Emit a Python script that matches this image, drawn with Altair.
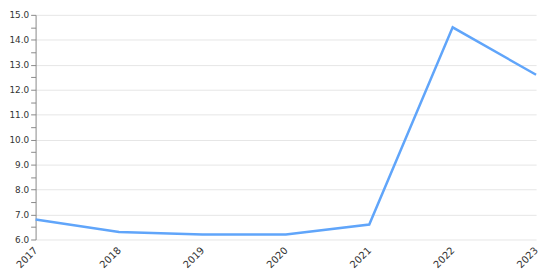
import altair as alt
import pandas as pd

years = ["2017", "2018", "2019", "2020", "2021", "2022", "2023"]
values = [6.8, 6.3, 6.2, 6.2, 6.6, 14.5, 12.6]

y_ticks = [6 + 0.5 * i for i in range(19)]

df = pd.DataFrame({"year": years, "value": values})

chart = alt.Chart(df).mark_line(color="#60a5fa", strokeWidth=2.5).encode(
    x=alt.X("year:N", sort=years,
            scale=alt.Scale(type="point", padding=0),
            axis=alt.Axis(title=None, labelAngle=-45, labelAlign="right",
                          labelBaseline="middle", labelPadding=9,
                          domain=False, ticks=False, grid=False,
                          labelFont="DejaVu Sans", labelFontSize=10,
                          labelColor="#333333")),
    y=alt.Y("value:Q", scale=alt.Scale(domain=[6, 15], nice=False, zero=False),
            axis=alt.Axis(title=None, values=y_ticks,
                          labelExpr="datum.value % 1 === 0 ? format(datum.value, '.1f') : ''",
                          labelFont="DejaVu Sans", labelFontSize=9,
                          labelColor="#333333", labelPadding=2,
                          tickSize=5, tickColor="#888888",
                          domainColor="#888888",
                          gridColor={"condition": {"test": "datum.value % 1 === 0", "value": "#e6e6e6"},
                                     "value": "transparent"})),
).properties(
    width=508, height=228,
    autosize=alt.AutoSizeParams(type="none"),
    padding={"left": 28, "top": 5, "right": 6, "bottom": 29},
).configure_view(stroke=None)

chart.save("out.html", embed_options={"renderer": "svg", "actions": False})
